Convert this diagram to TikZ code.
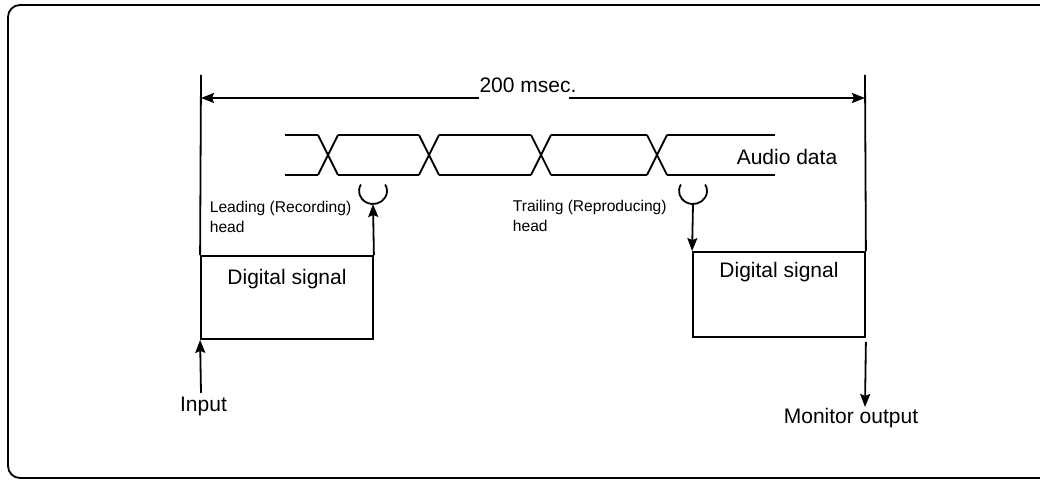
\documentclass[tikz,border=0pt]{standalone}
\usepackage{fontspec}
\setmainfont{Liberation Sans}
\usetikzlibrary{arrows.meta}
\tikzset{
  sigbox/.style={draw, minimum width=86pt, inner sep=0pt},
  bigtext/.style={font=\fontsize{10.5}{12}\selectfont, inner sep=0pt},
  headtext/.style={font=\fontsize{7.8}{10}\selectfont, align=left, anchor=north west, inner sep=0pt},
  >={Stealth[length=6.5pt, width=5pt, inset=1pt]}
}
\begin{document}
\begin{tikzpicture}[x=0.5pt, y=-0.5pt, line width=0.9pt]
  \useasboundingbox (0,0) rectangle (1040,480);
  % Frame
  \draw[rounded corners=6pt] (1060,5) -- (8,5) -- (8,478) -- (1060,478);
  % Boxes
  \node[sigbox, minimum height=41.5pt] (inbox) at (287,297.5) {};
  \node[bigtext, anchor=north] (intext) at ([yshift=-6.5pt]inbox.north) {Digital signal};
  \node[sigbox, minimum height=42.5pt] (outbox) at (779,294.5) {};
  \node[bigtext, anchor=north] (outtext) at ([yshift=-5pt]outbox.north) {Digital signal};
  % 200 msec.
  \node[bigtext] (dim) at (528,85) {200 msec.};
  \coordinate (dimL) at (201,98);
  \coordinate (dimR) at (865,98);
  \draw (inbox.north west) -- (201,75);
  \draw (outbox.north east) -- (865,75);
  \draw[->] (dim.west |- dimL) -- (dimL);
  \draw[->] ([xshift=-4pt]dim.east |- dimR) -- (dimR);
  % Audio data
  \foreach \xa/\xb in {285/318, 338/419, 439/531, 551/647, 667/775} {
    \draw (\xa,135) -- (\xb,135);
    \draw (\xa,175) -- (\xb,175);
  }
  \foreach \xc in {328,429,541,657} {
    \draw (\xc-10,135) -- (\xc+10,175);
    \draw (\xc-10,175) -- (\xc+10,135);
  }
  \node[bigtext] (audio) at (787,157) {Audio data};
  % Heads
  \coordinate (rechead) at (373,204);
  \coordinate (playhead) at (693,204);
  \draw (360.9,184.5) arc[start angle=150, end angle=390, x radius=7pt, y radius=6.5pt];
  \draw (680.9,184.5) arc[start angle=150, end angle=390, x radius=7pt, y radius=6.5pt];
  \node[headtext] (rectext) at (209,200) {Leading (Recording)\\head};
  \node[headtext] (playtext) at (512,199) {Trailing (Reproducing)\\head};
  \draw[->] (inbox.north east) -- (rechead);
  \draw[->] (playhead) -- (outbox.north west);
  % Input / output
  \node[bigtext] (input) at (203.5,406) {Input};
  \node[bigtext] (monitor) at (851,418) {Monitor output};
  \draw[->] (201,393) -- (inbox.south west);
  \draw[->] ([yshift=-2pt]outbox.south east) -- (865,407);
\end{tikzpicture}
\end{document}
